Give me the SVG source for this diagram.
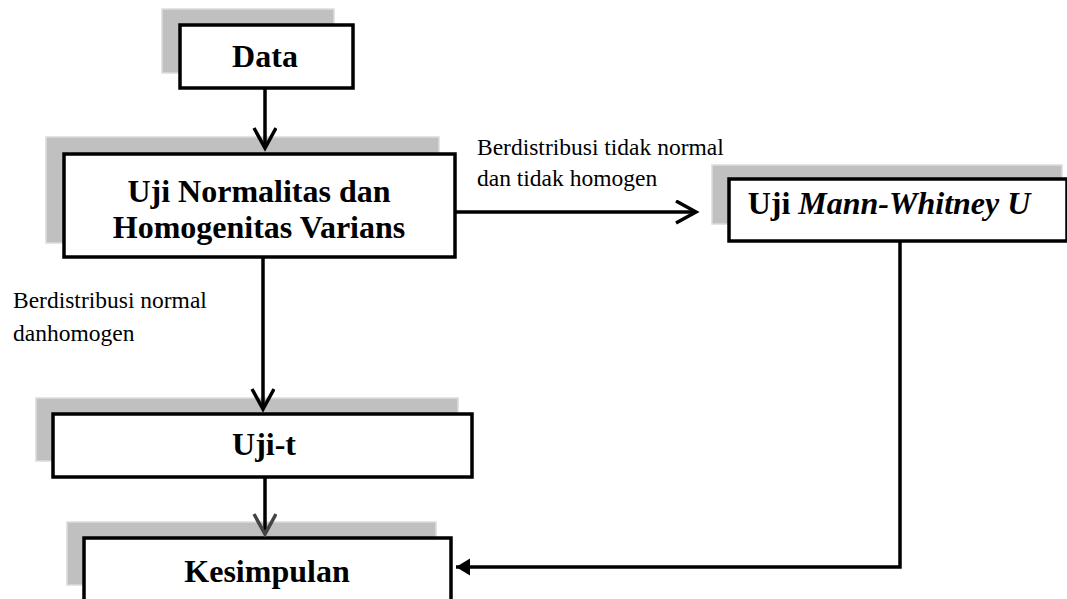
<svg xmlns="http://www.w3.org/2000/svg" width="1067" height="599" viewBox="0 0 1067 599">
<style>
.sh{fill:#c0c0c0;stroke:#dcdcdc;stroke-width:1.5}
.bx{fill:#fff;stroke:#000;stroke-width:3.5}
.t{font-family:"Liberation Serif","Times New Roman",serif;font-weight:bold;font-size:32px;fill:#000;text-anchor:middle}
.l{font-family:"Liberation Serif","Times New Roman",serif;font-size:23.5px;fill:#000}
.c{fill:none;stroke:#000;stroke-width:3.5}
</style>
<defs>
<marker id="v" markerWidth="26" markerHeight="26" refX="22" refY="12" orient="auto" markerUnits="userSpaceOnUse">
<path d="M2,1 L22,12 L2,23" fill="none" stroke="#000" stroke-width="3.5"/>
</marker>
<marker id="vg" markerWidth="26" markerHeight="26" refX="22" refY="12" orient="auto" markerUnits="userSpaceOnUse">
<path d="M2,1 L22,12 L2,23" fill="none" stroke="#444" stroke-width="3.5"/>
</marker>
<marker id="f" markerWidth="16" markerHeight="18" refX="14" refY="8.5" orient="auto" markerUnits="userSpaceOnUse">
<path d="M0,0 L14,8.5 L0,17 Z" fill="#000"/>
</marker>
</defs>
<g id="data">
<rect class="sh" x="162" y="9" width="172" height="64"/>
<rect class="bx" x="180" y="25" width="173" height="63"/>
<text class="t" x="265" y="67">Data</text>
</g>
<g id="uji-normalitas">
<rect class="sh" x="46" y="137" width="393" height="106"/>
<rect class="bx" x="64" y="154" width="391" height="103"/>
<text class="t" x="259" y="202">Uji Normalitas dan</text>
<text class="t" x="259" y="238">Homogenitas Varians</text>
</g>
<g id="mann-whitney">
<rect class="sh" x="712" y="165" width="350" height="59"/>
<rect class="bx" x="729" y="179" width="338" height="62"/>
<text class="t" x="889" y="214">Uji <tspan font-style="italic">Mann-Whitney U</tspan></text>
</g>
<g id="uji-t">
<rect class="sh" x="36" y="398" width="422" height="63"/>
<rect class="bx" x="53" y="414" width="419" height="63"/>
<text class="t" x="264" y="455">Uji-t</text>
</g>
<g id="kesimpulan">
<rect class="sh" x="67" y="522" width="369" height="63"/>
<rect class="bx" x="84" y="538" width="367" height="70"/>
<text class="t" x="267" y="582">Kesimpulan</text>
</g>
<g id="connectors">
<line class="c" x1="265" y1="88" x2="265" y2="148" marker-end="url(#v)"/>
<line class="c" x1="455" y1="212" x2="696" y2="212" marker-end="url(#v)"/>
<line class="c" x1="263" y1="257" x2="263" y2="409" marker-end="url(#v)"/>
<line class="c" x1="265" y1="477" x2="265" y2="534" marker-end="url(#vg)"/>
<polyline class="c" points="900,241 900,567 456,567" marker-end="url(#f)"/>
</g>
<g id="labels">
<text class="l" x="477" y="155">Berdistribusi tidak normal</text>
<text class="l" x="477" y="186">dan tidak homogen</text>
<text class="l" x="13" y="308">Berdistribusi normal</text>
<text class="l" x="13" y="341">danhomogen</text>
</g>
</svg>
